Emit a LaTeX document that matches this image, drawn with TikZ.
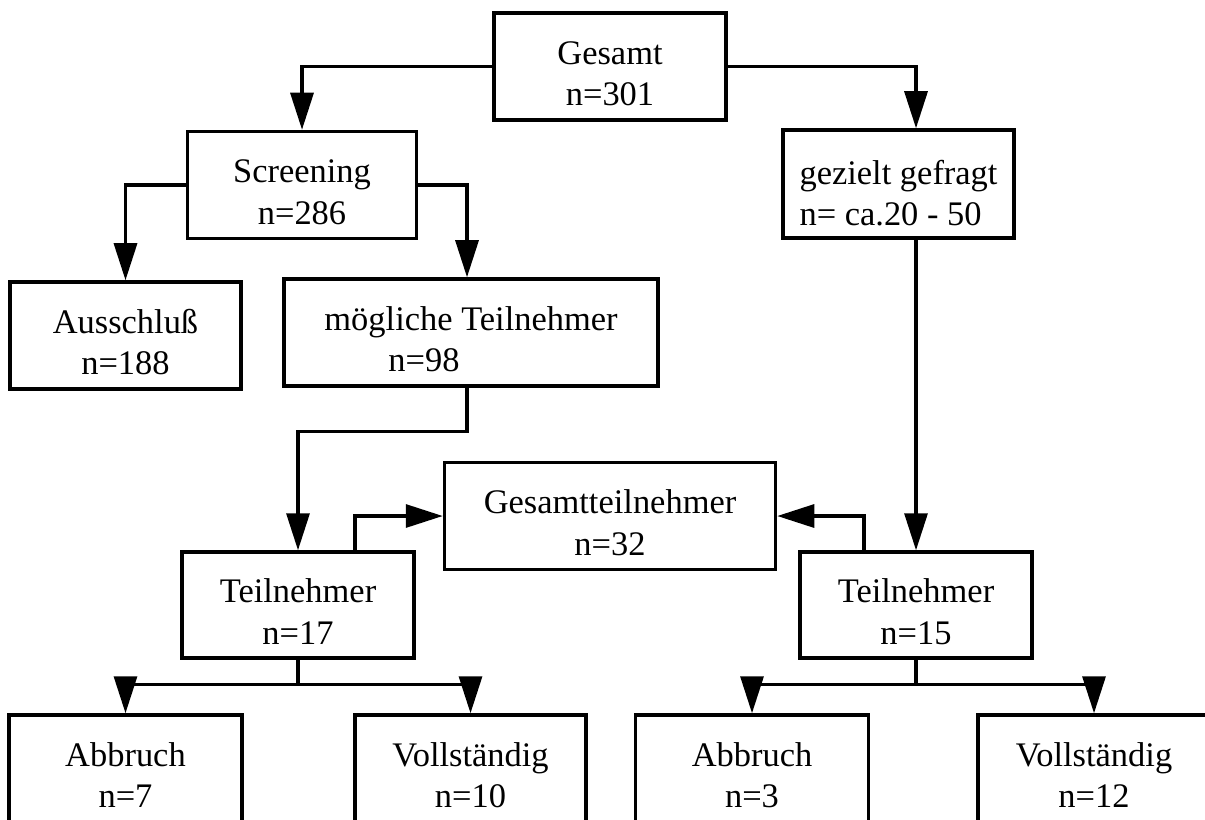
\documentclass[tikz,border=0pt]{standalone}
\usepackage{fontspec}
\setmainfont{Liberation Serif}
\usetikzlibrary{arrows.meta}
\newcommand{\hstrut}{\rule{0pt}{10.5pt}}
\tikzset{
  box/.style={draw, line width=1pt, minimum height=1.07cm, align=center,
    inner sep=0pt, font=\fontsize{9.8}{11.8}\selectfont},
  arr/.style={line width=0.9pt, -{Triangle[length=0.37cm,width=0.23cm]}}
}
\begin{document}
\begin{tikzpicture}
            \useasboundingbox (0,0) rectangle (12.05,8.19);
            \clip (0,0) rectangle (12.05,8.19);
            \coordinate (G) at (6.10,7.525);
            \coordinate (S) at (3.02,6.34);
            \coordinate (Z) at (8.985,6.35);
            \coordinate (A) at (1.255,4.835);
            \coordinate (M) at (4.71,4.865);
            \coordinate (GT) at (6.10,3.03);
            \coordinate (T1) at (2.98,2.14);
            \coordinate (T2) at (9.16,2.14);
            \node[box, minimum width=2.32cm] (gesamt) at (G) {\hstrut Gesamt\\n=301};
            \node[box, minimum width=2.29cm] (screening) at (S) {\hstrut Screening\\n=286};
            \node[box, minimum width=2.31cm, align=left, minimum height=1.08cm] (gezielt) at (Z) {\rule{0pt}{12pt}gezielt gefragt\\n= ca.20 - 50};
            \node[box, minimum width=2.31cm] (ausschluss) at (A) {\hstrut Ausschluß\\n=188};
            \node[box, minimum width=3.74cm] (moeglich) at (M) {\hstrut mögliche Teilnehmer\\n=98\hspace*{0.94cm}};
            \node[box, minimum width=3.31cm] (gesamtteil) at (GT) {\hstrut Gesamtteilnehmer\\n=32};
            \node[box, minimum width=2.32cm, minimum height=1.06cm] (teil1) at (T1) {\hstrut Teilnehmer\\n=17};
            \node[box, minimum width=2.32cm, minimum height=1.06cm] (teil2) at (T2) {\hstrut Teilnehmer\\n=15};
            \node[box, minimum width=2.33cm] (abbruch1) at (1.255,0.505) {\hstrut Abbruch\\n=7};
            \node[box, minimum width=2.31cm] (voll1) at (4.705,0.505) {\hstrut Vollständig\\n=10};
            \node[box, minimum width=2.33cm] (abbruch2) at (7.52,0.505) {\hstrut Abbruch\\n=3};
            \node[box, minimum width=2.32cm] (voll2) at (10.94,0.505) {\hstrut Vollständig\\n=12};
            \draw[arr] (gesamt.west) -| (screening.north);
            \draw[arr] (gesamt.east) -| (teil2.north |- gezielt.north);
            \draw[arr] (gezielt.south -| teil2.north) -- (teil2.north);
            \draw[arr] (screening.west) -| (ausschluss.north);
            \draw[arr] (screening.east) -| ([xshift=-0.04cm]moeglich.north);
            \draw[arr] ([xshift=-0.04cm]moeglich.south) -- ++(0,-0.44) -| (teil1.north);
            \draw[arr] ([xshift=0.57cm]teil1.north) |- (gesamtteil.west);
            \draw[arr] ([xshift=-0.52cm]teil2.north) |- (gesamtteil.east);
            \draw[arr] (teil1.south) -- ++(0,-0.25) -| (abbruch1.north);
            \draw[arr] (teil1.south) -- ++(0,-0.25) -| (voll1.north);
            \draw[arr] (teil2.south) -- ++(0,-0.25) -| (abbruch2.north);
            \draw[arr] (teil2.south) -- ++(0,-0.25) -| (voll2.north);
        \end{tikzpicture}
\end{document}
